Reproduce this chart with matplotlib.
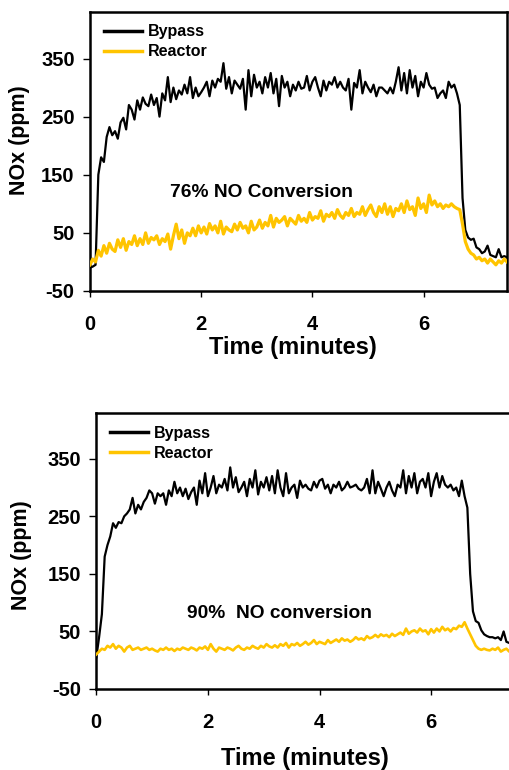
import matplotlib
matplotlib.use("Agg")
import matplotlib.pyplot as plt
import numpy as np

plt.rcParams["font.family"] = ["Liberation Sans", "DejaVu Sans"]
plt.rcParams["font.weight"] = "bold"
plt.rcParams["axes.unicode_minus"] = False

# sampling grid, minutes (0 .. 7.5 every 0.05 min)
time_min = np.round(np.linspace(0, 7.5, 151), 2)

# panel 1: 76% NO conversion
bypass_1 = [
    -10, -8, -5, 150, 180, 172, 215, 232, 218, 225, 212, 240, 248, 228, 270, 262, 245, 278, 262, 283,
    272, 268, 288, 270, 282, 250, 290, 278, 318, 275, 300, 280, 295, 288, 305, 290, 318, 282, 300, 285,
    292, 300, 310, 285, 312, 300, 315, 310, 342, 298, 318, 290, 312, 305, 298, 315, 262, 330, 285, 322,
    300, 310, 290, 318, 300, 325, 290, 315, 268, 320, 300, 310, 285, 305, 295, 310, 298, 300, 320, 295,
    310, 318, 300, 285, 312, 295, 310, 305, 318, 300, 310, 300, 295, 315, 262, 308, 300, 330, 290, 310,
    300, 292, 305, 285, 300, 300, 295, 290, 300, 290, 310, 335, 295, 325, 290, 330, 300, 320, 285, 310,
    300, 325, 305, 298, 300, 282, 290, 295, 282, 310, 300, 305, 290, 270, 110, 55, 42, 38, 40, 25,
    22, 15, 18, 28, 12, 10, 8, 22, 8, 10, 8,
]
reactor_1 = [
    -5, 5, 0, 20, 10, 28, 15, 32, 22, 18, 38, 25, 40, 20, 35, 30, 45, 28, 40, 30,
    50, 32, 42, 38, 45, 30, 40, 35, 48, 22, 45, 65, 40, 55, 32, 50, 45, 58, 45, 62,
    50, 60, 48, 66, 55, 62, 50, 70, 48, 60, 55, 52, 65, 55, 68, 58, 62, 50, 70, 55,
    60, 72, 58, 68, 62, 80, 60, 75, 68, 72, 78, 62, 75, 70, 65, 80, 70, 75, 68, 85,
    72, 78, 75, 88, 70, 82, 78, 85, 75, 90, 80, 75, 85, 80, 92, 78, 85, 82, 95, 80,
    90, 98, 85, 78, 95, 85, 100, 82, 95, 78, 92, 88, 100, 85, 105, 90, 95, 80, 110, 92,
    100, 85, 115, 98, 105, 95, 100, 92, 98, 95, 100, 95, 92, 90, 65, 35, 22, 15, 12, 5,
    8, 2, 5, -2, 5, 0, -5, 2, -2, 5, 0,
]

# panel 2: 90% NO conversion
bypass_2 = [
    5, 40, 80, 180, 200, 215, 238, 230, 240, 238, 250, 255, 262, 282, 255, 270, 262, 275, 282, 295,
    290, 272, 290, 285, 290, 270, 295, 285, 310, 290, 300, 285, 298, 280, 292, 300, 270, 312, 290, 325,
    285, 300, 320, 290, 305, 300, 315, 295, 335, 300, 318, 292, 300, 310, 285, 315, 300, 330, 288, 310,
    300, 318, 295, 320, 290, 330, 300, 285, 325, 290, 300, 305, 282, 312, 300, 305, 298, 295, 310, 300,
    312, 315, 298, 305, 290, 305, 300, 310, 295, 300, 310, 300, 302, 305, 298, 295, 300, 315, 290, 330,
    290, 310, 298, 285, 300, 310, 295, 285, 305, 300, 330, 290, 320, 300, 325, 290, 310, 315, 300, 325,
    285, 310, 325, 300, 320, 305, 300, 305, 295, 300, 285, 312, 285, 265, 150, 85, 68, 65, 52, 45,
    42, 40, 40, 38, 40, 35, 50, 32, 30, 28, 25,
]
reactor_2 = [
    10, 15, 20, 18, 25, 22, 28, 20, 25, 22, 15, 22, 25, 18, 20, 22, 18, 20, 22, 18,
    20, 17, 15, 20, 18, 22, 18, 20, 16, 20, 18, 22, 20, 18, 22, 20, 17, 22, 20, 24,
    18, 28, 20, 15, 22, 20, 18, 22, 20, 17, 22, 25, 20, 18, 22, 20, 25, 22, 20, 25,
    22, 28, 24, 22, 26, 22, 28, 25, 30, 22, 28, 26, 30, 25, 28, 32, 27, 30, 35, 28,
    32, 30, 28, 35, 30, 33, 36, 32, 38, 34, 36, 32, 35, 40, 36, 38, 35, 42, 38, 40,
    44, 40, 45, 42, 44, 40, 46, 42, 45, 48, 44, 55, 46, 50, 52, 48, 55, 50, 52, 45,
    54, 48, 55, 50, 58, 52, 55, 50, 56, 54, 60, 58, 66, 55, 45, 35, 25, 20, 18, 20,
    18, 17, 20, 18, 22, 15, 18, 20, 15, 14, 12,
]

panels = [
    {"bypass": bypass_1, "reactor": reactor_1, "note": "76% NO Conversion", "note_xy": (3.09, 119),
     "rect": [0.1768, 0.6221, 0.8193, 0.3623], "reactor_lw": 2.3,
     "xlabel_xy": (0.487, -0.201), "ylabel_xy": (-0.169, 0.541), "legend_anchor": (0.01, 0.99)},
    {"bypass": bypass_2, "reactor": reactor_2, "note": "90%  NO conversion", "note_xy": (3.29, 82),
     "rect": [0.1892, 0.1052, 0.8222, 0.3588], "reactor_lw": 1.9,
     "xlabel_xy": (0.499, -0.250), "ylabel_xy": (-0.178, 0.485), "legend_anchor": (0.01, 0.987)},
]

BLACK = "black"
GOLD = "#FFC400"

fig = plt.figure(figsize=(5.09, 7.70), dpi=100)

for p in panels:
    ax = fig.add_axes(p["rect"])
    ax.plot(time_min, p["bypass"], color=BLACK, lw=1.6, label="Bypass", zorder=2)
    ax.plot(time_min, p["reactor"], color=GOLD, lw=p["reactor_lw"], label="Reactor", zorder=3)

    ax.set_xlim(0, 7.5)
    ax.set_ylim(-50, 430)
    ax.set_xticks([0, 2, 4, 6])
    ax.set_yticks([-50, 50, 150, 250, 350])
    ax.tick_params(axis="x", direction="out", length=4, width=1, pad=13, labelsize=14.5)
    ax.tick_params(axis="y", direction="out", length=5, width=1, pad=6, labelsize=14.5)
    for lab in ax.get_xticklabels() + ax.get_yticklabels():
        lab.set_fontweight("bold")
    for sp in ax.spines.values():
        sp.set_linewidth(1.8)

    ax.set_xlabel("Time (minutes)", fontsize=17, fontweight="bold")
    ax.xaxis.label.set_va("center")
    ax.xaxis.set_label_coords(*p["xlabel_xy"])
    ax.set_ylabel("NOx (ppm)", fontsize=15.5, fontweight="bold")
    ax.yaxis.label.set_va("center")
    ax.yaxis.set_label_coords(*p["ylabel_xy"])

    ax.text(*p["note_xy"], p["note"], ha="center", va="center", fontsize=13.8, fontweight="bold")

    leg = ax.legend(loc="upper left", bbox_to_anchor=p["legend_anchor"], frameon=False,
                    prop={"size": 11.5, "weight": "bold"}, handlelength=2.4, handletextpad=0.35,
                    labelspacing=0.3, borderaxespad=0.0, borderpad=0.6)
    for h in leg.get_lines():
        h.set_linewidth(2.5)

fig.savefig("out.png", dpi=100)
